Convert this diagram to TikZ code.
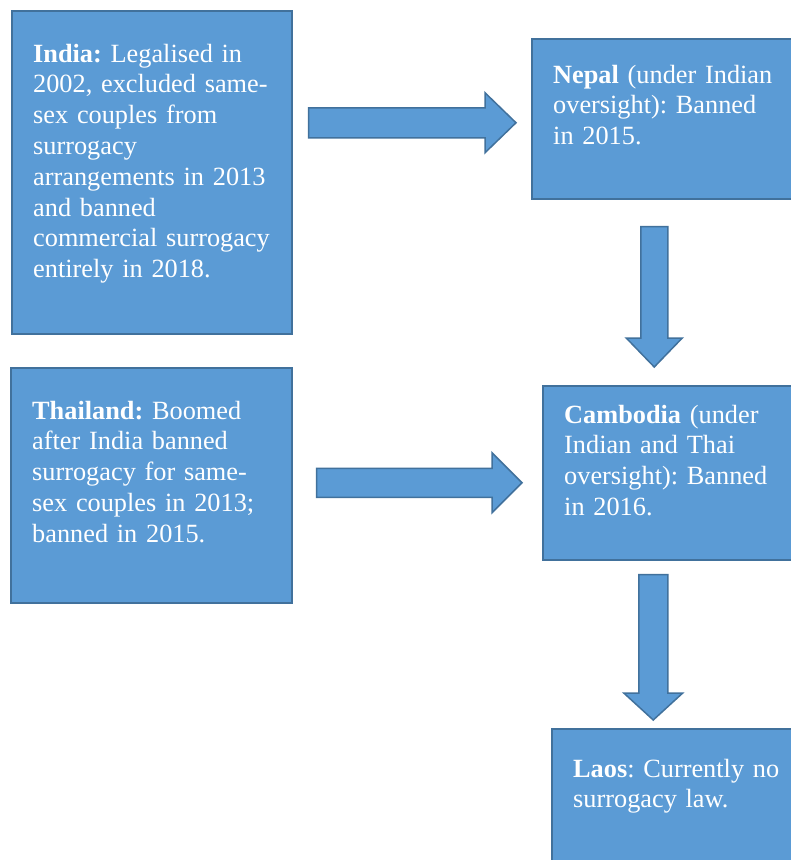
\documentclass[tikz,border=0pt]{standalone}
\usepackage{fontspec}
\setmainfont{Liberation Serif}
\usetikzlibrary{calc}
\definecolor{boxblue}{HTML}{5B9BD5}
\definecolor{edgeblue}{HTML}{41719C}
\frenchspacing

\begin{document}
\begin{tikzpicture}[x=1pt, y=-1pt,
  box/.style={draw=edgeblue, fill=boxblue, line width=1.5pt, anchor=north west, inner sep=0pt},
  boxtext/.style={text=white, anchor=base west, inner sep=0pt, text width=300pt, align=left,
    font=\fontsize{26.3}{30.8}\selectfont},
  flow/.style={draw=edgeblue, fill=boxblue, line width=1.5pt, line join=miter}]

% Page
\useasboundingbox (0,0) rectangle (791,860);
\clip (0,0) rectangle (791,860);
\fill[white] (0,0) rectangle (791,860);

% Boxes
\node[box, minimum width=280, minimum height=323] (india) at (11,10) {};
\node[box, minimum width=264, minimum height=160] (nepal) at (531,38) {};
\node[box, minimum width=281, minimum height=235] (thai) at (10,367) {};
\node[box, minimum width=253, minimum height=174] (cambodia) at (542,385) {};
\node[box, minimum width=244, minimum height=140] (laos) at (551,728) {};

% Texts
\node[boxtext] (indiaT) at (33,62) {\textbf{India:} Legalised in\\2002, excluded same-\\sex couples from\\surrogacy\\arrangements in 2013\\and banned\\commercial surrogacy\\entirely in 2018.};
\node[boxtext] (nepalT) at (553,83) {\textbf{Nepal} (under Indian\\oversight): Banned\\in 2015.};
\node[boxtext] (thaiT) at (32,419) {\textbf{Thailand:} Boomed\\after India banned\\surrogacy for same-\\sex couples in 2013;\\banned in 2015.};
\node[boxtext] (cambodiaT) at (564,423) {\textbf{Cambodia} (under\\Indian and Thai\\oversight): Banned\\in 2016.};
\node[boxtext] (laosT) at (573,777) {\textbf{Laos}: Currently no\\surrogacy law.};

% Arrow ends
\coordinate (a1t) at ($(nepal.west)+(-15,4)$);
\coordinate (a1s) at ($(india.east |- a1t)+(16,0)$);
\coordinate (d1t) at ($(cambodia.north)+(-15,-18)$);
\coordinate (d1s) at ($(nepal.south -| d1t)+(0,27)$);
\coordinate (a2t) at ($(cambodia.west)+(-20,10)$);
\coordinate (a2s) at ($(thai.east |- a2t)+(24,0)$);
\coordinate (d2t) at ($(laos.north)+(-20.5,-8)$);
\coordinate (d2s) at ($(cambodia.south -| d2t)+(0,14)$);

% India -> Nepal
\draw[flow] ($(a1s)+(0,-15)$) -- ($(a1t)+(-31,-15)$) -- ($(a1t)+(-31,-30)$) -- (a1t)
  -- ($(a1t)+(-31,30)$) -- ($(a1t)+(-31,15)$) -- ($(a1s)+(0,15)$) -- cycle;
% Nepal -> Cambodia
\draw[flow] ($(d1s)+(-13.5,0)$) -- ($(d1t)+(-13.5,-29)$) -- ($(d1t)+(-28,-29)$) -- (d1t)
  -- ($(d1t)+(28,-29)$) -- ($(d1t)+(13.5,-29)$) -- ($(d1s)+(13.5,0)$) -- cycle;
% Thailand -> Cambodia
\draw[flow] ($(a2s)+(0,-14.5)$) -- ($(a2t)+(-30,-14.5)$) -- ($(a2t)+(-30,-30)$) -- (a2t)
  -- ($(a2t)+(-30,30)$) -- ($(a2t)+(-30,14.5)$) -- ($(a2s)+(0,14.5)$) -- cycle;
% Cambodia -> Laos
\draw[flow] ($(d2s)+(-14.5,0)$) -- ($(d2t)+(-14.5,-27)$) -- ($(d2t)+(-29.5,-27)$) -- (d2t)
  -- ($(d2t)+(29.5,-27)$) -- ($(d2t)+(14.5,-27)$) -- ($(d2s)+(14.5,0)$) -- cycle;

\end{tikzpicture}
\end{document}
